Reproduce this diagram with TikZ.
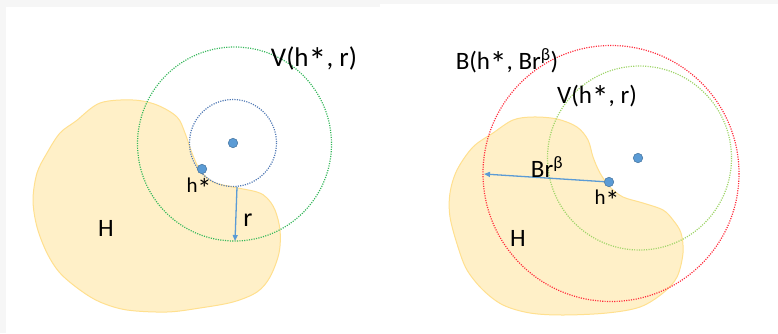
\documentclass[tikz,border=0pt]{standalone}
\usepackage{fontspec}
\usepackage{graphicx}
\setmainfont{Carlito}
\usetikzlibrary{arrows.meta}
\definecolor{hfill}{HTML}{FFF0C8}
\definecolor{hline}{HTML}{FFE08F}
\definecolor{vgreen}{HTML}{34B85A}
\definecolor{lgreen}{HTML}{9ED467}
\definecolor{sblue}{HTML}{4F78B5}
\definecolor{bred}{HTML}{FF2A3A}
\definecolor{dotfill}{HTML}{5B9BD5}
\definecolor{dotline}{HTML}{41719C}
\definecolor{frame}{HTML}{F6F6F6}
\newcommand\hstar{\kern-0.01em\raisebox{-0.25em}{\scalebox{1.35}{*}}}
\tikzset{
  region/.style={fill=hfill, draw=hline, line width=1pt},
  dotcirc/.style={dash pattern=on 1.1pt off 1.3pt, line width=1.2pt},
  pt/.style={circle, fill=dotfill, draw=dotline, line width=0.5pt, minimum size=9.5pt, inner sep=0pt},
  radarrow/.style={draw=dotfill, line width=1.3pt, -{Triangle[length=6pt,width=5pt]}},
  lbl/.style={inner sep=0pt, text=black},
}
\begin{document}
\begin{tikzpicture}[x=1pt,y=-1pt]
\useasboundingbox (0,0) rectangle (778,333);
\fill[frame] (0,0) rectangle (778,333);
\fill[white] (6,7) rectangle (380,333);
\fill[white] (380,4) rectangle (778,333);
% left region H
\draw[region] plot[smooth cycle, tension=0.55] coordinates {
(100,103) (133,100) (157,105) (177,117) (185,133) (192,153) (200,170) (213,182) (233,187) (257,192) (267,198) (275,210) (280,230) (279,253) (270,277) (257,292) (233,302) (200,308) (167,312) (127,310) (100,302) (80,290) (60,273) (47,253) (37,227) (33,200) (37,173) (47,153) (60,133) (76,121)};
% right region H
\draw[region] plot[smooth cycle, tension=0.55] coordinates {
(473,147) (493,133) (513,120) (533,117) (557,119) (577,127) (588,140) (593,157) (600,173) (610,187) (623,197) (643,203) (663,210) (673,220) (681,233) (683,253) (677,277) (663,293) (640,307) (607,313) (563,315) (530,313) (503,305) (483,290) (467,270) (458,247) (450,217) (450,193) (457,170)};
% left circles
\draw[dotcirc, vgreen] (234.5,144) circle (97);
\draw[dotcirc, sblue] (233,143) circle (43.5);
% right circles
\draw[dotcirc, bred] (611,173.5) circle (128);
\draw[dotcirc, lgreen] (639.5,158) circle (92);
% left points and arrow
\coordinate (rs) at (237,187);
\coordinate (re) at (235,241);
\draw[radarrow] (rs) -- (re);
\node[pt] (c1) at (233,143) {};
\node[pt] (h1) at (202,169) {};
% right points and arrow
\node[pt] (c2) at (638,158) {};
\node[pt] (h2) at (609,182) {};
\coordinate (be) at (484,174);
\draw[radarrow] (h2) -- (be);
% labels
\node[lbl, font=\fontsize{27}{27}\selectfont] (v1) at (314,60) {V(h\hstar, r)};
\node[lbl, font=\fontsize{21}{21}\selectfont] (hs1) at (199,188) {h\hstar};
\node[lbl, font=\fontsize{26}{26}\selectfont] (r1) at (248,220) {r};
\node[lbl, font=\fontsize{25}{25}\selectfont] (H1) at (106,228) {H};
\node[lbl, font=\fontsize{25}{25}\selectfont] (b2) at (507,62) {B(h\hstar, Br\textsuperscript{β})};
\node[lbl, font=\fontsize{25}{25}\selectfont] (v2) at (597,97) {V(h\hstar, r)};
\node[lbl, font=\fontsize{25}{25}\selectfont] (br2) at (547,167) {Br\textsuperscript{β}};
\node[lbl, font=\fontsize{21}{21}\selectfont] (hs2) at (607,200) {h\hstar};
\node[lbl, font=\fontsize{25}{25}\selectfont] (H2) at (518,238) {H};
\end{tikzpicture}
\end{document}
